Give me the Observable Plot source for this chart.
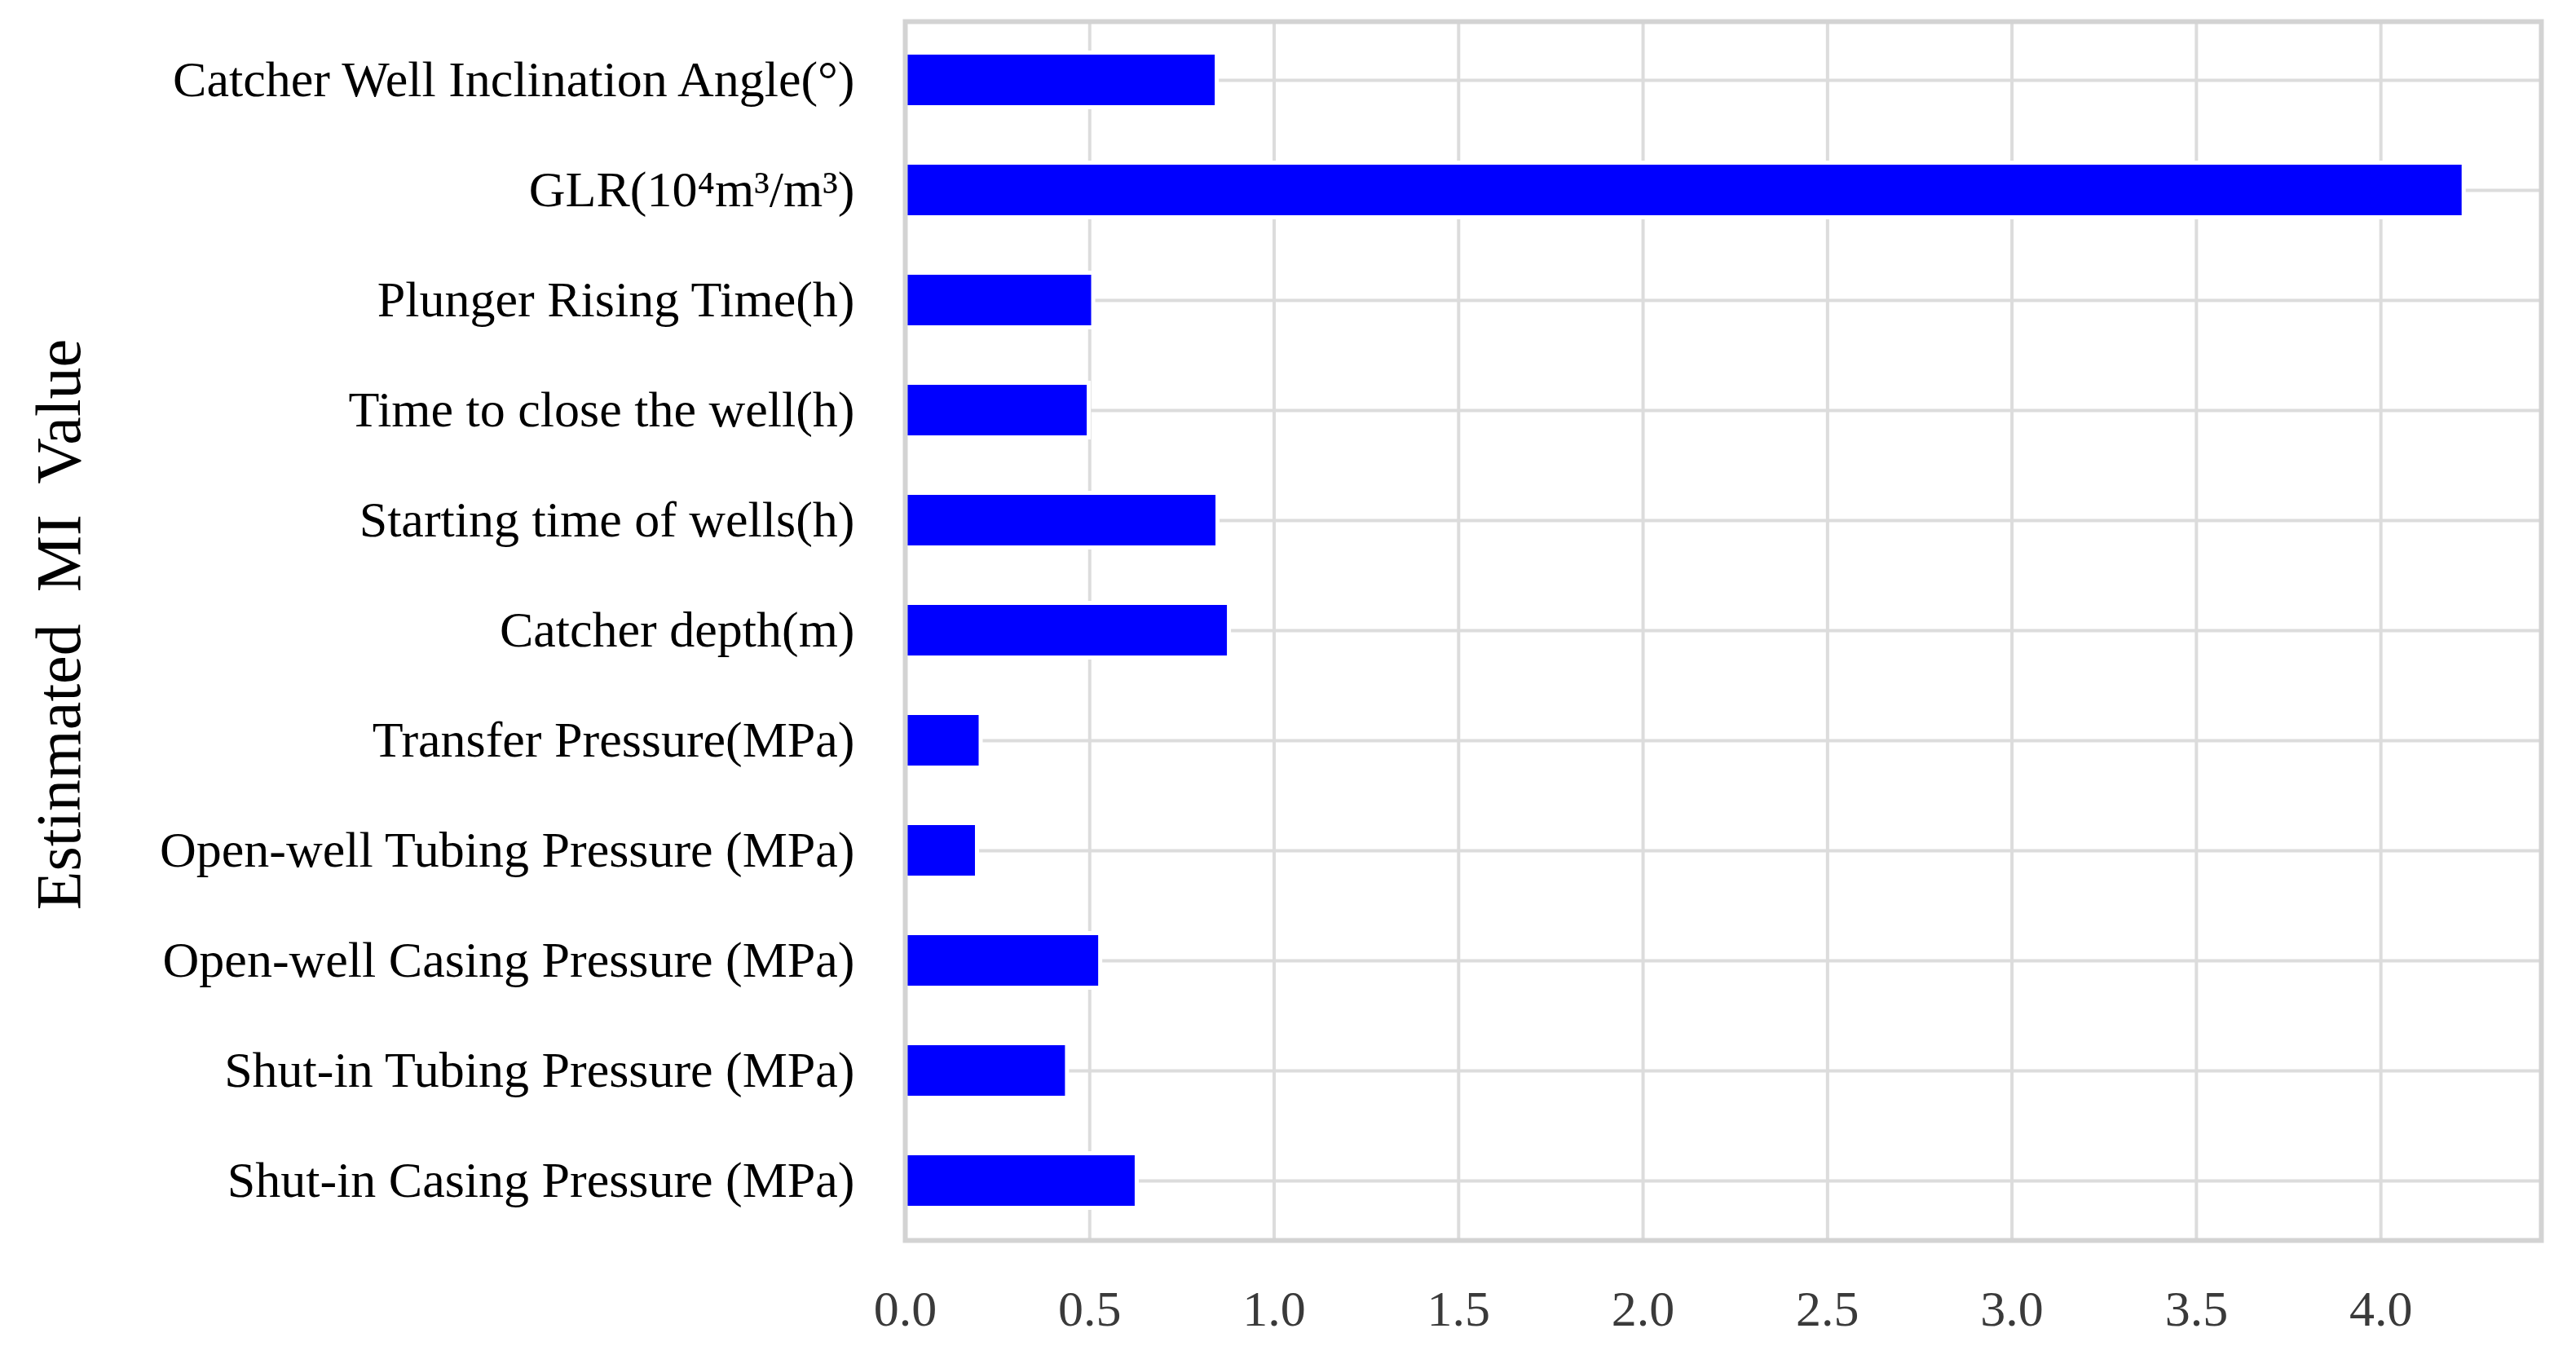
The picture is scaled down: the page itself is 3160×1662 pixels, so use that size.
<!DOCTYPE html>
<html>
<head>
<meta charset="utf-8">
<script src="https://cdn.jsdelivr.net/npm/d3@7"></script>
<script src="https://cdn.jsdelivr.net/npm/@observablehq/plot@0.6"></script>
<style>
  html, body { margin: 0; padding: 0; background: #ffffff; overflow: hidden; }
  svg { display: block; }
</style>
</head>
<body>
<div id="chart"></div>
<script>
const categories = [
  "Catcher Well Inclination Angle(°)",
  "GLR(10⁴m³/m³)",
  "Plunger Rising Time(h)",
  "Time to close the well(h)",
  "Starting time of wells(h)",
  "Catcher depth(m)",
  "Transfer Pressure(MPa)",
  "Open-well Tubing Pressure (MPa)",
  "Open-well Casing Pressure (MPa)",
  "Shut-in Tubing Pressure (MPa)",
  "Shut-in Casing Pressure (MPa)"
];
const miValues = [0.84, 4.22, 0.505, 0.493, 0.842, 0.873, 0.20, 0.19, 0.524, 0.434, 0.623];
const xTicks = [0, 0.5, 1.0, 1.5, 2.0, 2.5, 3.0, 3.5, 4.0];
const yTitle = "Estinmated\u00a0 MI\u00a0 Value";

const data = categories.map((c, i) => ({feature: c, mi: miValues[i]}));
const fmt = d3.format(".1f");

const chart = Plot.plot({
  width: 3160,
  height: 1662,
  marginLeft: 1110,
  marginRight: 43,
  marginTop: 26,
  marginBottom: 141,
  style: {fontFamily: "'Liberation Serif', 'Times New Roman', serif", fontSize: "62px", background: "#ffffff"},
  x: {domain: [0, 4.435], ticks: xTicks, tickFormat: fmt},
  y: {type: "band", domain: categories, paddingInner: 0.54, paddingOuter: 0.27},
  marks: [
    Plot.gridX(xTicks, {stroke: "#dcdcdc", strokeOpacity: 1, strokeWidth: 4}),
    Plot.gridY(categories, {stroke: "#dcdcdc", strokeOpacity: 1, strokeWidth: 4}),
    Plot.barX(data, {x: "mi", y: "feature", fill: "#ffffff", stroke: "#ffffff", strokeWidth: 10}),
    Plot.barX(data, {x: "mi", y: "feature", fill: "#0000ff"}),
    Plot.axisX(xTicks, {tickSize: 0, tickPadding: 60, tickFormat: fmt, color: "#3a3a3a", label: null, fontSize: 62}),
    Plot.axisY({tickSize: 0, tickPadding: 62, label: null, color: "#000000", fontSize: 62}),
    Plot.frame({stroke: "#d3d3d3", strokeWidth: 6}),
    Plot.text([yTitle], {text: d => d, frameAnchor: "left", textAnchor: "middle", lineAnchor: "middle", dx: -1037, dy: -8, rotate: -90, fontSize: 78, fill: "#000000"})
  ]
});
document.getElementById("chart").appendChild(chart);
</script>
</body>
</html>
